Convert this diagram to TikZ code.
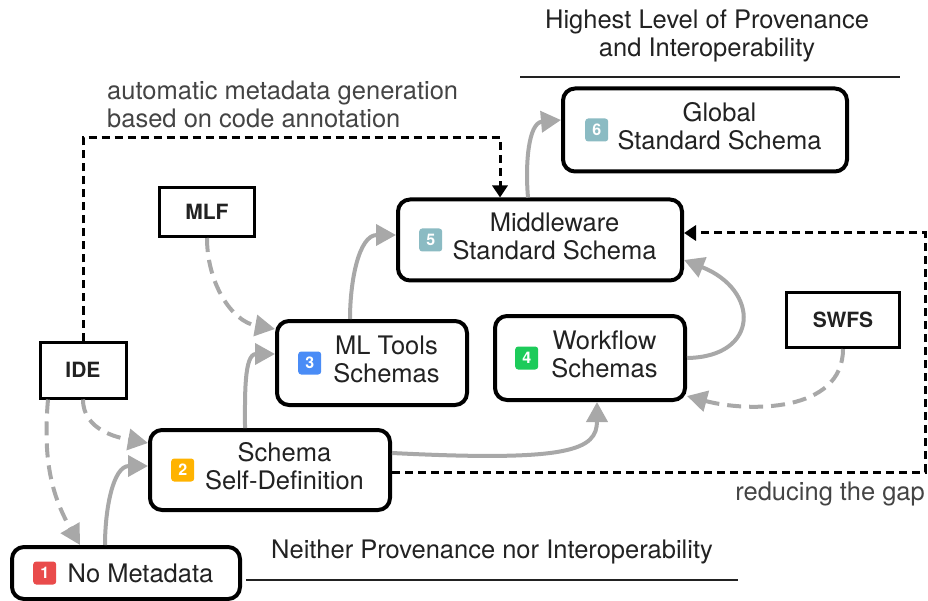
\documentclass[tikz,border=0pt]{standalone}
\usepackage{fontspec}
\setmainfont{TeX Gyre Heros}
\usetikzlibrary{arrows.meta,positioning}
\definecolor{txt}{HTML}{222222}
\definecolor{note}{HTML}{444444}
\definecolor{arrowgray}{HTML}{A8A8A8}
\definecolor{cRed}{HTML}{E94B4B}
\definecolor{cOrange}{HTML}{FFB300}
\definecolor{cBlue}{HTML}{4A8CF6}
\definecolor{cGreen}{HTML}{1DCB5A}
\definecolor{cTeal}{HTML}{8BBBC3}
\newcommand{\pad}{\hspace*{29pt}}

\begin{document}
\begin{tikzpicture}[x=1pt,y=-1pt,
    stage/.style={draw,line width=4pt,rounded corners=12pt,fill=white,inner sep=0pt,text=txt,font=\fontsize{25.5}{28}\selectfont},
    tool/.style={draw,line width=3pt,fill=white,text=txt,font=\bfseries\fontsize{21}{24}\selectfont},
    badge/.style={rounded corners=3pt,minimum size=23pt,inner sep=0pt,text=white,font=\bfseries\fontsize{16}{16}\selectfont},
    plain/.style={inner sep=0pt,font=\fontsize{25.5}{28}\selectfont},
    solidflow/.style={draw=arrowgray,line width=4pt,-{Triangle[length=20pt,width=21pt]}},
    dashflow/.style={solidflow,dash pattern=on 14pt off 8pt},
    blackdash/.style={black,line width=3pt,dash pattern=on 8pt off 5pt,-{Triangle[length=12pt,width=15pt]}}]
    \useasboundingbox (0,0) rectangle (928,601);

    \node[stage,minimum width=228pt,minimum height=52pt] (1) at (126,573) {\pad No Metadata};
    \node[stage,minimum width=240pt,minimum height=80pt] (2) at (270,470) {\pad\begin{tabular}{@{}c@{}}Schema\\Self-Definition\end{tabular}};
    \node[stage,minimum width=190pt,minimum height=84pt] (3) at (372,363) {\pad\begin{tabular}{@{}c@{}}ML Tools\\Schemas\end{tabular}};
    \node[stage,minimum width=190pt,minimum height=84pt] (4) at (590,358) {\pad\begin{tabular}{@{}c@{}}Workflow\\Schemas\end{tabular}};
    \node[stage,minimum width=284pt,minimum height=81pt] (5) at (540,240) {\pad\begin{tabular}{@{}c@{}}Middleware\\Standard Schema\end{tabular}};
    \node[stage,minimum width=284pt,minimum height=83pt] (6) at (705,130) {\pad\begin{tabular}{@{}c@{}}Global\\Standard Schema\end{tabular}};

    \node[badge,fill=cRed,right=23pt of 1.west] (b1) {1};
    \node[badge,fill=cOrange,right=23pt of 2.west] (b2) {2};
    \node[badge,fill=cBlue,right=23pt of 3.west] (b3) {3};
    \node[badge,fill=cGreen,right=22pt of 4.west] (b4) {4};
    \node[badge,fill=cTeal,right=23pt of 5.west] (b5) {5};
    \node[badge,fill=cTeal,right=24pt of 6.west] (b6) {6};

    \node[tool,minimum width=95pt,minimum height=49pt] (mlf) at (207,212) {MLF};
    \node[tool,minimum width=86pt,minimum height=56pt] (ide) at (83,370) {IDE};
    \node[tool,minimum width=113pt,minimum height=55pt] (swfs) at (843,320) {SWFS};

    \node[plain,text=txt,align=center] (top) at (707,36) {Highest Level of Provenance\\and Interoperability};
    \node[plain,text=note,align=left,anchor=west] (auto) at (107,104) {automatic metadata generation\\based on code annotation};
    \node[plain,text=txt] (neither) at (492,552) {Neither Provenance nor Interoperability};
    \node[plain,text=note,anchor=east] (gap) at (925,494) {reducing the gap};
    \draw[txt,line width=1.5pt] (520,77) -- (900,77);
    \draw[txt,line width=1.5pt] (246,580) -- (738,580);

    \coordinate (autoTop) at (500,138);
    \coordinate (gapCorner) at (925,233);

    \draw[solidflow] ([xshift=-21pt]1.north) to[out=90,in=180] ([yshift=4pt]2.west);
    \draw[dashflow] ([xshift=-35pt]ide.south) to[out=-95,in=120] ([xshift=-46pt]1.north);
    \draw[dashflow] (ide.south) to[out=-90,in=170] ([yshift=27pt]2.west);
    \draw[dashflow] (mlf.south) to[out=-90,in=170] ([yshift=34pt]3.west);
    \draw[solidflow] ([xshift=-25pt]2.north) to[out=90,in=180] ([yshift=9pt]3.west);
    \draw[solidflow] ([xshift=-22pt]3.north) to[out=90,in=180] ([yshift=5pt]5.west);
    \draw[solidflow] ([yshift=17pt]2.east) .. controls (570,462) and (597,450) .. ([xshift=7pt]4.south);
    \draw[solidflow] (4.east) .. controls (760,357) and (760,290) .. ([yshift=-20pt]5.east);
    \draw[dashflow] (swfs.south) to[out=-90,in=-15] ([yshift=-38pt]4.east);
    \draw[solidflow] ([xshift=-12pt]5.north) to[out=95,in=185] ([yshift=10pt]6.west);

    \draw[blackdash] (ide.north) |- (autoTop) -- (autoTop |- 5.north);
    \draw[blackdash] ([yshift=-2pt]2.east) -| (gapCorner) -- ([yshift=7pt]5.east);
\end{tikzpicture}
\end{document}
